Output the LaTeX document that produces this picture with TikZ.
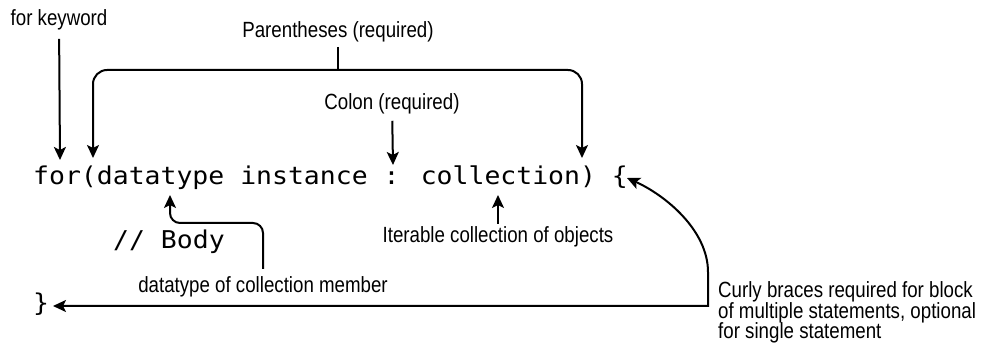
\documentclass[tikz,border=0pt]{standalone}
\usepackage{fontspec}
\newfontfamily\lblfont{Liberation Sans}[FakeStretch=0.85]
\newfontfamily\codefont{DejaVu Sans Mono}[FakeStretch=1.08]
\usetikzlibrary{arrows.meta}

\begin{document}
\begin{tikzpicture}[x=1pt,y=-1pt]
\tikzset{lbl/.style={font=\lblfont\fontsize{22}{20.7}\selectfont,inner sep=0pt,anchor=base},
  code/.style={font=\codefont\fontsize{24.5}{26}\selectfont,inner sep=0pt,anchor=base west},
  arr/.style={line width=2pt,-{Stealth[length=13pt,width=12pt,inset=3pt]}},
  arrtwo/.style={line width=2pt,{Stealth[length=13pt,width=12pt,inset=3pt]}-{Stealth[length=13pt,width=12pt,inset=3pt]}}}
\useasboundingbox (0,0) rectangle (986,344);
% code lines
\node (head) at (33,185) [code] {for(datatype instance : collection) \{};
\node (body) at (113,249) [code] {// Body};
\node (close) at (33,312) [code] {\}};
% labels
\node (kw) at (59,26) [lbl] {for keyword};
\node (paren) at (338,38) [lbl] {Parentheses (required)};
\node (colon) at (392,110) [lbl] {Colon (required)};
\node (iter) at (498,243) [lbl] {Iterable collection of objects};
\node (dtype) at (263,293) [lbl] {datatype of collection member};
\node (curly) at (718,339) [lbl,anchor=base west,align=left] {Curly braces required for block\\of multiple statements, optional\\for single statement};
% arrow ends
\coordinate (kwtip) at (60,160);
\coordinate (lpar) at (93,158);
\coordinate (rpar) at (582,158);
\coordinate (bar) at (338,70);
\coordinate (colontip) at (393,165);
\coordinate (itertip) at (498,195);
\coordinate (tbend) at (170,223);
\coordinate (ttip) at (170,195);
\coordinate (lbrace) at (627,178);
\coordinate (rbrace) at (53,306);
\coordinate (bend) at (708,306);
\coordinate (rise) at (708,272);
\draw[arr,shorten <=8pt] (kw) -- (kwtip);
\draw[line width=2pt,shorten <=4pt] (paren) -- (bar);
\draw[arrtwo,rounded corners=14pt] (lpar) |- (bar) -| (rpar);
\draw[arr,shorten <=6pt] (colon) -- (colontip);
\draw[arr,shorten <=3pt] (iter) -- (itertip);
\draw[arr,rounded corners=10pt] ([yshift=8pt]dtype.north) |- (tbend) -- (ttip);
\draw[arrtwo] (rbrace) -- (bend) -- (rise) .. controls (708,230) and (665,195) .. (lbrace);
\end{tikzpicture}
\end{document}
